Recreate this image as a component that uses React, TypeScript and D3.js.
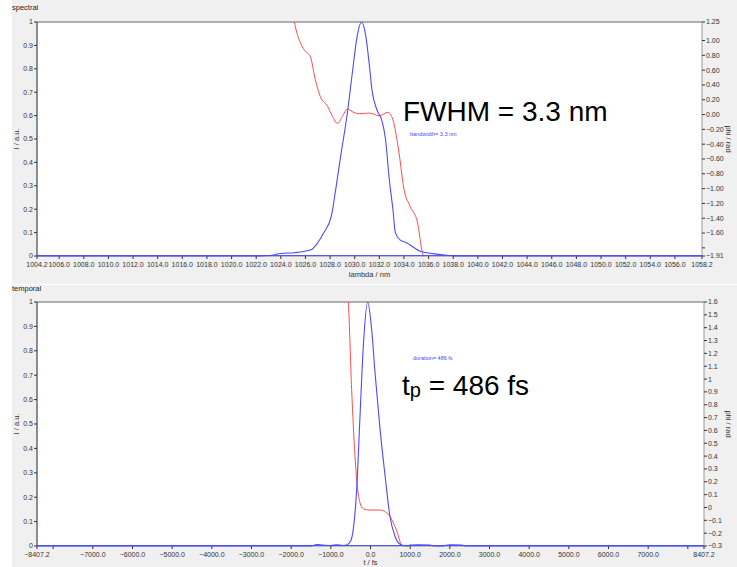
import React from "react";
import * as d3 from "d3";

// ---------- data ----------
const specLambda = [1004.2, 1022.3, 1023.1, 1024.0, 1025.1, 1026.5, 1026.9, 1027.5, 1028.1, 1028.5, 1028.9, 1029.4, 1029.8, 1030.2, 1030.55, 1030.9, 1031.2, 1031.4, 1031.8, 1032.2, 1032.5, 1032.8, 1033.1, 1033.3, 1033.7, 1034.2, 1034.8, 1035.3, 1036.4, 1037.5, 1038.2, 1058.2];
const specIntensity = [0, 0, 0.002, 0.011, 0.014, 0.028, 0.05, 0.1, 0.17, 0.3, 0.44, 0.61, 0.78, 0.94, 1.0, 0.94, 0.81, 0.71, 0.625, 0.58, 0.5, 0.33, 0.2, 0.1, 0.068, 0.057, 0.036, 0.02, 0.01, 0.003, 0, 0];

const specPhaseLambda = [1024.9, 1025.1, 1025.6, 1025.9, 1026.4, 1026.8, 1027.2, 1027.8, 1028.2, 1028.6, 1029.0, 1029.4, 1029.9, 1030.4, 1031.2, 1032.0, 1032.7, 1033.1, 1033.6, 1034.0, 1034.5, 1035.1, 1035.5, 1035.6];
const specPhase = [1.45, 1.25, 0.963, 0.873, 0.78, 0.47, 0.245, 0.11, -0.025, -0.12, -0.025, 0.074, 0.03, 0.011, 0.02, -0.016, 0.03, -0.07, -0.52, -1.01, -1.24, -1.46, -1.865, -1.91];

const timeT = [-8407.2, -1500, -1350, -1200, -1000, -850, -700, -600, -500, -433, -349, -265, -181, -71, 30, 114, 240, 366, 492, 618, 744, 912, 1000, 1200, 1500, 1600, 1800, 2000, 2300, 2400, 8407.2];
const timeIntensity = [0, 0, 0.006, 0.004, 0.002, 0.005, 0.002, 0.004, 0.02, 0.07, 0.23, 0.53, 0.82, 1.0, 0.886, 0.71, 0.48, 0.29, 0.12, 0.04, 0.007, 0, 0.004, 0.005, 0.004, 0, 0, 0.005, 0.004, 0, 0];

const timePhaseT = [-600, -559, -475, -391, -332, -265, -181, -13, 240, 450, 576, 702, 770];
const timePhase = [1.75, 1.6, 0.917, 0.4, 0.166, 0.036, -0.01, -0.02, -0.02, -0.054, -0.12, -0.22, -0.3];

const specXTicks = [1004.2, ...d3.range(1006, 1057, 2), 1058.2];
const specYTicks = d3.range(0, 1.0001, 0.1);
const specPhaseTicks = [1.25, 1.0, 0.8, 0.6, 0.4, 0.2, 0.0, -0.2, -0.4, -0.6, -0.8, -1.0, -1.2, -1.4, -1.6, -1.8, -1.91];
const timeXTicks = [-8407.2, -8000, ...d3.range(-7000, 7001, 1000), 8000, 8407.2];
const timePhaseTicks = d3.range(16, -4, -1).map((v) => v / 10);

const BLUE = "#4a4aff";
const RED = "#ff4d4d";
const FONT = "'Liberation Sans', Arial, sans-serif";

type PanelProps = {
  top: number;
  plotTop: number;
  plotBottom: number;
  plotLeft: number;
  plotRight: number;
  title: string;
  xLabel: string;
  xLabelY: number;
  xDomain: [number, number];
  xTicks: number[];
  xFmt: (v: number) => string;
  yTicks: number[];
  phaseDomain: [number, number];
  phaseTicks: number[];
  phaseFmt: (v: number) => string;
  ix: number[];
  iy: number[];
  px: number[];
  py: number[];
  id: string;
};

function Panel(p: PanelProps) {
  const x = d3.scaleLinear().domain(p.xDomain).range([p.plotLeft, p.plotRight]);
  const y = d3.scaleLinear().domain([0, 1]).range([p.plotBottom, p.plotTop]);
  const yr = d3.scaleLinear().domain(p.phaseDomain).range([p.plotBottom, p.plotTop]);
  const lineP = d3.line<number>().x((_, i) => x(p.px[i])).y((d) => yr(d)).curve(d3.curveMonotoneX);
  const lineIc = d3.line<number>().x((_, i) => x(p.ix[i])).y((d) => y(d)).curve(d3.curveMonotoneX);
  const fs = 7;
  return (
    <g>
      <defs>
        <clipPath id={p.id}>
          <rect x={p.plotLeft} y={p.plotTop} width={p.plotRight - p.plotLeft} height={p.plotBottom - p.plotTop + 1} />
        </clipPath>
      </defs>
      <text x={12} y={p.top + 10} fontSize={7.5} fontFamily={FONT} fill="#222">{p.title}</text>
      <rect x={p.plotLeft} y={p.plotTop} width={p.plotRight - p.plotLeft} height={p.plotBottom - p.plotTop} fill="#fff" />
      <line x1={p.plotLeft} x2={p.plotRight} y1={p.plotTop} y2={p.plotTop} stroke="#666" strokeWidth={1} />
      <line x1={p.plotRight} x2={p.plotRight} y1={p.plotTop} y2={p.plotBottom} stroke="#999" strokeWidth={1} />
      <line x1={p.plotLeft} x2={p.plotLeft} y1={p.plotTop} y2={p.plotBottom} stroke="#222" strokeWidth={1} />
      <line x1={p.plotLeft} x2={p.plotRight} y1={p.plotBottom} y2={p.plotBottom} stroke="#888" strokeWidth={1} />
      {p.yTicks.map((t, i) => (
        <g key={"l" + i}>
          <line x1={p.plotLeft - 3} x2={p.plotLeft} y1={y(t)} y2={y(t)} stroke="#333" />
          <text x={p.plotLeft - 4} y={y(t)} dy="0.35em" textAnchor="end" fontSize={fs} fontFamily={FONT} fill="#333">
            {Math.abs(t) < 1e-9 ? "0" : Math.abs(t - 1) < 1e-9 ? "1" : d3.format(".1f")(t)}
          </text>
        </g>
      ))}
      {p.phaseTicks.map((t, i) => (
        <g key={"r" + i}>
          <line x1={p.plotRight} x2={p.plotRight + 3} y1={yr(t)} y2={yr(t)} stroke="#333" />
          <text x={p.plotRight + 4} y={yr(t)} dy="0.35em" textAnchor="start" fontSize={fs} fontFamily={FONT} fill="#333">
            {p.phaseFmt(t)}
          </text>
        </g>
      ))}
      {p.xTicks.map((t, i) => (
        <g key={"b" + i}>
          <line x1={x(t)} x2={x(t)} y1={p.plotBottom} y2={p.plotBottom + 3} stroke="#333" />
          <text x={x(t)} y={p.plotBottom + 11} textAnchor="middle" fontSize={fs} fontFamily={FONT} fill="#333">
            {p.xFmt(t)}
          </text>
        </g>
      ))}
      <text x={(p.plotLeft + p.plotRight) / 2} y={p.xLabelY} textAnchor="middle" fontSize={7.5} fontFamily={FONT} fill="#333">{p.xLabel}</text>
      <text transform={`translate(19,${(p.plotTop + p.plotBottom) / 2}) rotate(-90)`} textAnchor="middle" fontSize={7.5} fontFamily={FONT} fill="#333">I / a.u.</text>
      <text transform={`translate(726,${(p.plotTop + p.plotBottom) / 2}) rotate(90)`} textAnchor="middle" fontSize={7.5} fontFamily={FONT} fill="#333">phi / rad</text>
      <g clipPath={`url(#${p.id})`}>
        <path d={lineP(p.py) || ""} fill="none" stroke={RED} strokeWidth={1} />
        <path d={lineIc(p.iy) || ""} fill="none" stroke={BLUE} strokeWidth={1.1} />
      </g>
      <line x1={p.plotLeft} x2={p.plotRight} y1={p.plotBottom - 0.5} y2={p.plotBottom - 0.5} stroke={BLUE} strokeWidth={1.2} opacity={0.9} />
    </g>
  );
}

export default function App() {
  return (
    <svg width={737} height={567} style={{ position: "absolute", left: 0, top: 0, display: "block" }}>
      <rect x={0} y={0} width={737} height={567} fill="#fff" />
      <rect x={12} y={0} width={725} height={284} fill="#f0f0f0" />
      <rect x={12} y={285} width={725} height={282} fill="#f0f0f0" />
      <Panel
        id="clipA"
        top={0}
        plotTop={22}
        plotBottom={256}
        plotLeft={37}
        plotRight={702}
        title="spectral"
        xLabel="lambda / nm"
        xLabelY={277}
        xDomain={[1004.2, 1058.2]}
        xTicks={specXTicks}
        xFmt={(v) => d3.format(".1f")(v)}
        yTicks={specYTicks}
        phaseDomain={[-1.91, 1.25]}
        phaseTicks={specPhaseTicks}
        phaseFmt={(v) => (Math.abs(v + 1.8) < 1e-9 ? "" : d3.format(".2f")(v))}
        ix={specLambda}
        iy={specIntensity}
        px={specPhaseLambda}
        py={specPhase}
      />
      <Panel
        id="clipB"
        top={281}
        plotTop={302}
        plotBottom={546}
        plotLeft={37}
        plotRight={704}
        title="temporal"
        xLabel="t / fs"
        xLabelY={565}
        xDomain={[-8407.2, 8407.2]}
        xTicks={timeXTicks}
        xFmt={(v) => (Math.abs(Math.abs(v) - 8000) < 1e-9 ? "" : d3.format(".1f")(v))}
        yTicks={specYTicks}
        phaseDomain={[-0.3, 1.6]}
        phaseTicks={timePhaseTicks}
        phaseFmt={(v) => (Math.abs(v) < 1e-9 ? "0" : d3.format("")(Math.round(v * 10) / 10))}
        ix={timeT}
        iy={timeIntensity}
        px={timePhaseT}
        py={timePhase}
      />
      <text x={403} y={121} fontSize={28} fontFamily={FONT} fill="#000">FWHM = 3.3 nm</text>
      <text x={410} y={136} fontSize={5.5} fontFamily={FONT} fill={BLUE}>bandwidth= 3.3 nm</text>
      <text x={413} y={360} fontSize={5.5} fontFamily={FONT} fill={BLUE}>duration= 486 fs</text>
      <text x={402} y={395} fontSize={28} fontFamily={FONT} fill="#000">
        t<tspan fontSize={20} dy={2}>p</tspan><tspan dy={-2}> = 486 fs</tspan>
      </text>
    </svg>
  );
}
